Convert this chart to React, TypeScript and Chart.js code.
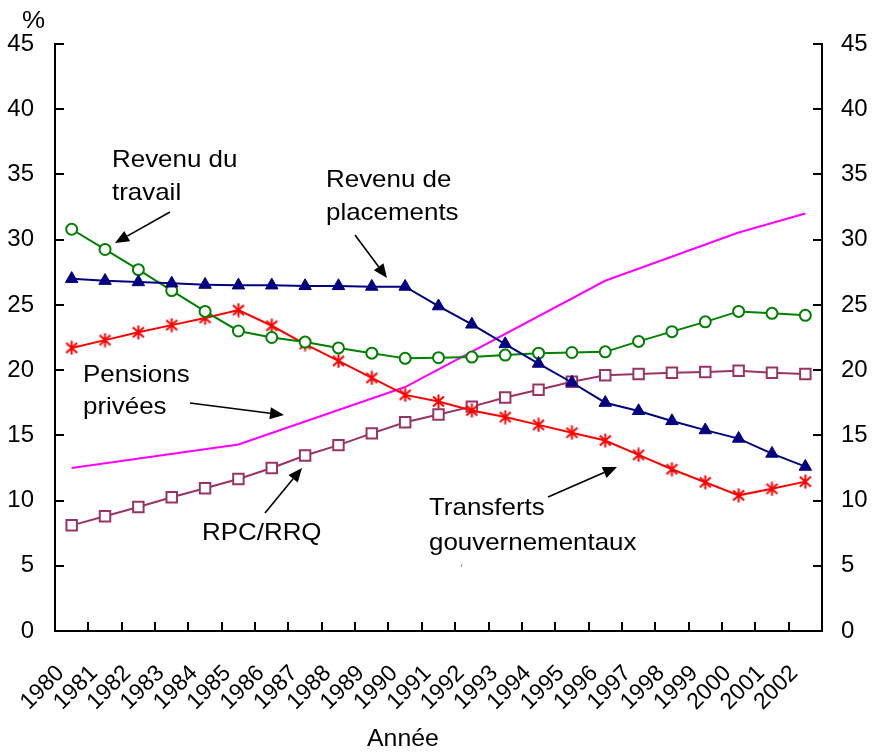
import { useEffect, useRef } from "react";
import { Chart, registerables } from "chart.js";

Chart.register(...registerables);

const years = [
  "1980", "1981", "1982", "1983", "1984", "1985", "1986", "1987", "1988", "1989", "1990", "1991",
  "1992", "1993", "1994", "1995", "1996", "1997", "1998", "1999", "2000", "2001", "2002",
];

const revenuTravail = [
  30.8, 29.25, 27.7, 26.1, 24.5, 23.0, 22.5, 22.15, 21.7, 21.3, 20.9, 20.95,
  21.0, 21.15, 21.3, 21.35, 21.4, 22.2, 22.95, 23.7, 24.5, 24.35, 24.2,
];

const revenuPlacements = [
  27.0, 26.85, 26.75, 26.65, 26.55, 26.5, 26.5, 26.45, 26.45, 26.4, 26.4, 24.9,
  23.5, 22.0, 20.5, 19.05, 17.5, 16.87, 16.1, 15.4, 14.75, 13.6, 12.6,
];

const transferts = [
  21.7, 22.3, 22.9, 23.45, 24.0, 24.6, 23.4, 22.0, 20.7, 19.4, 18.1, 17.6,
  16.9, 16.4, 15.8, 15.2, 14.6, 13.5, 12.4, 11.4, 10.4, 10.9, 11.45,
];

const rpcRrq = [
  8.1, 8.8, 9.5, 10.25, 10.95, 11.65, 12.5, 13.45, 14.25, 15.15, 16.0, 16.6,
  17.2, 17.9, 18.5, 19.1, 19.6, 19.7, 19.8, 19.85, 19.95, 19.8, 19.7,
];

const pensionsPrivees: (number | null)[] = [
  12.5, null, null, null, null, 14.3, null, null, null, null, 18.7, null,
  null, null, null, null, 26.85, null, null, null, 30.55, null, 32.0,
];

const yTicks = [0, 5, 10, 15, 20, 25, 30, 35, 40, 45];

const FONT = '"Liberation Sans", Arial, sans-serif';

function makeStar(): HTMLCanvasElement {
  const c = document.createElement("canvas");
  c.width = 15;
  c.height = 15;
  const g = c.getContext("2d")!;
  g.strokeStyle = "#FF0000";
  g.lineWidth = 2;
  g.lineCap = "butt";
  g.beginPath();
  g.moveTo(7.5, 0.5);
  g.lineTo(7.5, 14.5);
  g.moveTo(2, 2.5);
  g.lineTo(13, 12.5);
  g.moveTo(13, 2.5);
  g.lineTo(2, 12.5);
  g.stroke();
  return c;
}

function drawText(ctx: CanvasRenderingContext2D, s: string, x: number, y: number, size: number) {
  ctx.save();
  ctx.translate(x, y);
  ctx.scale(1.08, 1);
  ctx.font = `${size}px ${FONT}`;
  ctx.fillStyle = "#000";
  ctx.textAlign = "left";
  ctx.textBaseline = "alphabetic";
  ctx.fillText(s, 0, 0);
  ctx.restore();
}

function drawArrow(ctx: CanvasRenderingContext2D, x1: number, y1: number, x2: number, y2: number) {
  const ang = Math.atan2(y2 - y1, x2 - x1);
  const len = 14;
  const hw = 6;
  const bx = x2 - len * Math.cos(ang);
  const by = y2 - len * Math.sin(ang);
  ctx.save();
  ctx.strokeStyle = "#000";
  ctx.fillStyle = "#000";
  ctx.lineWidth = 1.6;
  ctx.beginPath();
  ctx.moveTo(x1, y1);
  ctx.lineTo(bx, by);
  ctx.stroke();
  ctx.beginPath();
  ctx.moveTo(x2, y2);
  ctx.lineTo(bx + hw * Math.sin(ang), by - hw * Math.cos(ang));
  ctx.lineTo(bx - hw * Math.sin(ang), by + hw * Math.cos(ang));
  ctx.closePath();
  ctx.fill();
  ctx.restore();
}

const overlay = {
  id: "overlay",
  afterDraw(chart: any) {
    const ctx: CanvasRenderingContext2D = chart.ctx;
    const { left, right, bottom } = chart.chartArea;
    const ys = chart.scales.y;
    const xs = chart.scales.x;
    ctx.save();
    ctx.strokeStyle = "#000";
    ctx.lineWidth = 2;
    ctx.beginPath();
    ys.ticks.forEach((t: any) => {
      const py = Math.round(ys.getPixelForValue(t.value));
      ctx.moveTo(left, py);
      ctx.lineTo(left + 9, py);
      ctx.moveTo(right - 9, py);
      ctx.lineTo(right, py);
    });
    for (let i = 1; i < years.length; i++) {
      const px = Math.round((xs.getPixelForValue(i - 1) + xs.getPixelForValue(i)) / 2);
      ctx.moveTo(px, bottom);
      ctx.lineTo(px, bottom - 9);
    }
    ctx.stroke();
    ctx.restore();

    drawText(ctx, "%", 22, 28, 24);
    drawText(ctx, "Année", 367, 746, 23);

    drawText(ctx, "Revenu du", 112, 167, 24);
    drawText(ctx, "travail", 112, 200, 24);
    drawArrow(ctx, 170, 212, 115, 243);

    drawText(ctx, "Revenu de", 326, 187, 24);
    drawText(ctx, "placements", 326, 220, 24);
    drawArrow(ctx, 355, 235, 387, 278);

    drawText(ctx, "Pensions", 83, 382, 24);
    drawText(ctx, "privées", 83, 414, 24);
    drawArrow(ctx, 190, 403, 284, 415);

    drawText(ctx, "RPC/RRQ", 202, 540, 24);
    drawArrow(ctx, 265, 513, 302, 468);

    drawText(ctx, "Transferts", 429, 515, 24);
    drawText(ctx, "gouvernementaux", 429, 550, 24);
    drawArrow(ctx, 548, 497, 617, 467);

    ctx.save();
    ctx.strokeStyle = "#888";
    ctx.lineWidth = 1;
    ctx.beginPath();
    ctx.moveTo(462, 564);
    ctx.lineTo(461, 567);
    ctx.stroke();
    ctx.restore();
  },
};

export default function App() {
  const ref = useRef<HTMLCanvasElement | null>(null);

  useEffect(() => {
    if (!ref.current) return;
    Chart.defaults.font.family = FONT;
    Chart.defaults.color = "#000";
    const star = makeStar();
    const chart = new Chart(ref.current, {
      type: "line",
      data: {
        labels: years,
        datasets: [
          {
            label: "Revenu de placements",
            data: revenuPlacements,
            borderColor: "#000080",
            backgroundColor: "#000080",
            borderWidth: 2,
            pointStyle: "triangle",
            pointRadius: 7.2,
            pointBorderWidth: 1,
            pointBackgroundColor: "#000080",
            pointBorderColor: "#000080",
            tension: 0,
          },
          {
            label: "Revenu du travail",
            data: revenuTravail,
            borderColor: "#008000",
            borderWidth: 2,
            pointStyle: "circle",
            pointRadius: 5.5,
            pointBorderWidth: 2,
            pointBackgroundColor: "#FFFFFF",
            pointBorderColor: "#008000",
            tension: 0,
          },
          {
            label: "Transferts gouvernementaux",
            data: transferts,
            borderColor: "#FF0000",
            borderWidth: 2,
            pointStyle: star as any,
            pointRadius: 7,
            tension: 0,
          },
          {
            label: "RPC/RRQ",
            data: rpcRrq,
            borderColor: "#993366",
            borderWidth: 2,
            pointStyle: "rect",
            pointRadius: 7.4,
            pointBorderWidth: 2,
            pointBackgroundColor: "#FFFFFF",
            pointBorderColor: "#993366",
            tension: 0,
          },
          {
            label: "Pensions privées",
            data: pensionsPrivees,
            borderColor: "#FF00FF",
            borderWidth: 2,
            pointRadius: 0,
            spanGaps: true,
            tension: 0,
          },
        ],
      },
      options: {
        animation: false,
        responsive: true,
        maintainAspectRatio: false,
        layout: { padding: { top: 44, left: 0, right: 0, bottom: 0 } },
        plugins: {
          legend: { display: false },
          tooltip: { enabled: false },
          title: { display: false },
        },
        scales: {
          x: {
            type: "category",
            offset: true,
            grid: { display: false, drawTicks: false },
            border: { display: true, color: "#000", width: 2 },
            ticks: {
              autoSkip: false,
              maxRotation: 45,
              minRotation: 45,
              padding: 29,
              labelOffset: -11,
              font: { size: 23, family: FONT },
              color: "#000",
            },
            afterFit: (s: any) => {
              s.height = 124;
            },
          },
          y: {
            position: "left",
            min: 0,
            max: 45,
            grid: { display: false, drawTicks: false },
            border: { display: true, color: "#000", width: 2 },
            afterBuildTicks: (s: any) => {
              s.ticks = yTicks.map((v) => ({ value: v }));
            },
            ticks: { padding: 21, font: { size: 24, family: FONT }, color: "#000" },
            afterFit: (s: any) => {
              s.width = 55;
            },
          },
          y2: {
            position: "right",
            min: 0,
            max: 45,
            grid: { display: false, drawTicks: false },
            border: { display: true, color: "#000", width: 2 },
            afterBuildTicks: (s: any) => {
              s.ticks = yTicks.map((v) => ({ value: v }));
            },
            ticks: { padding: 19, font: { size: 24, family: FONT }, color: "#000" },
            afterFit: (s: any) => {
              s.width = 51;
            },
          },
        },
      },
      plugins: [overlay],
    });
    return () => chart.destroy();
  }, []);

  return (
    <div style={{ position: "fixed", left: 0, top: 0, width: 873, height: 755, background: "#fff" }}>
      <canvas ref={ref} />
    </div>
  );
}
